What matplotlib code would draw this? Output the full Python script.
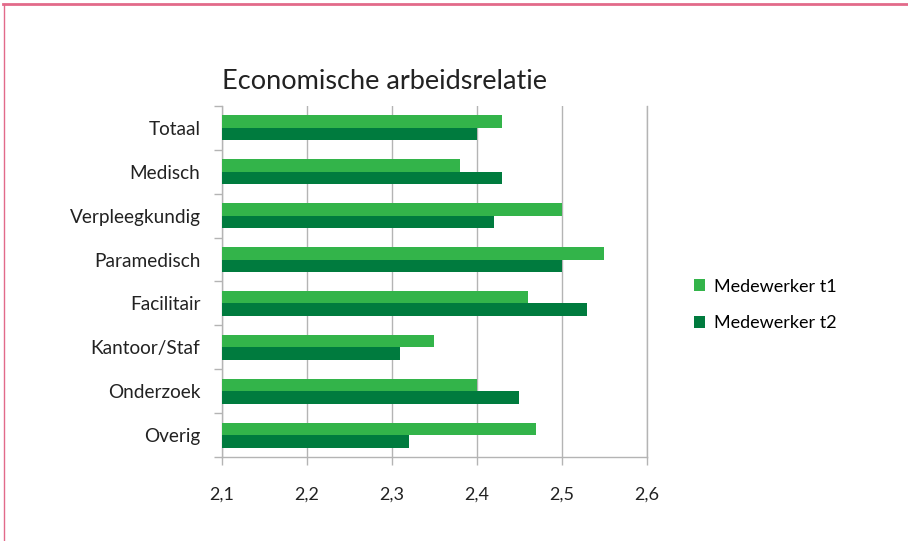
import numpy as np
import matplotlib.pyplot as plt
from matplotlib.lines import Line2D

plt.rcParams['font.family'] = ['Lato', 'DejaVu Sans']

# data
categories = ['Totaal', 'Medisch', 'Verpleegkundig', 'Paramedisch',
              'Facilitair', 'Kantoor/Staf', 'Onderzoek', 'Overig']
t1 = [2.43, 2.38, 2.50, 2.55, 2.46, 2.35, 2.40, 2.47]
t2 = [2.40, 2.43, 2.42, 2.50, 2.53, 2.31, 2.45, 2.32]
xticks = [2.1, 2.2, 2.3, 2.4, 2.5, 2.6]
xticklabels = ['2,1', '2,2', '2,3', '2,4', '2,5', '2,6']

c1 = '#33b44a'
c2 = '#007b3e'
grey = '#b4b4b4'

fig = plt.figure(figsize=(9.08, 5.41), dpi=100)
ax = fig.add_axes([0.2445, 0.1553, 0.468, 0.6488])

n = len(categories)
y = np.arange(n)[::-1]  # Totaal on top
h = 0.285
base = 2.1
ax.barh(y + h/2, np.array(t1) - base, left=base, height=h, color=c1,
        label='Medewerker t1', zorder=3)
ax.barh(y - h/2, np.array(t2) - base, left=base, height=h, color=c2,
        label='Medewerker t2', zorder=3)

ax.set_xlim(2.1, 2.6)
ax.set_ylim(-0.5, n - 0.5)

ax.set_xticks(xticks)
ax.set_xticklabels(xticklabels, fontsize=13)
ax.tick_params(axis='x', direction='out', length=6, width=1, color=grey,
               pad=15, labelcolor='#222222')
ax.grid(axis='x', color=grey, lw=1, zorder=0)

ax.set_yticks(y)
ax.set_yticklabels(categories, fontsize=13.7, color='#222222')
ax.tick_params(axis='y', which='major', length=0, pad=15.5)
ax.set_yticks(np.arange(n + 1) - 0.5, minor=True)
ax.tick_params(axis='y', which='minor', direction='out', length=6, width=1,
               color=grey)

ax.spines['top'].set_visible(False)
for s in ['left', 'bottom', 'right']:
    ax.spines[s].set_color(grey)
    ax.spines[s].set_linewidth(1)

ax.set_title('Economische arbeidsrelatie', loc='left', fontsize=19.5,
             color='#222222', pad=12)

ax.legend(loc='center left', bbox_to_anchor=(1.11, 0.433), frameon=False,
          fontsize=13, handlelength=0.65, handleheight=0.65, handletextpad=0.45,
          labelspacing=1.15, borderaxespad=0, borderpad=0)

# pink frame lines
pink = '#e26a8a'
fig.add_artist(Line2D([3/908, 1], [1 - 4/541, 1 - 4/541], color=pink, lw=2,
                      transform=fig.transFigure))
fig.add_artist(Line2D([3.5/908, 3.5/908], [0, 1 - 4/541], color=pink, lw=1,
                      transform=fig.transFigure))

fig.savefig('out.png', dpi=100)
